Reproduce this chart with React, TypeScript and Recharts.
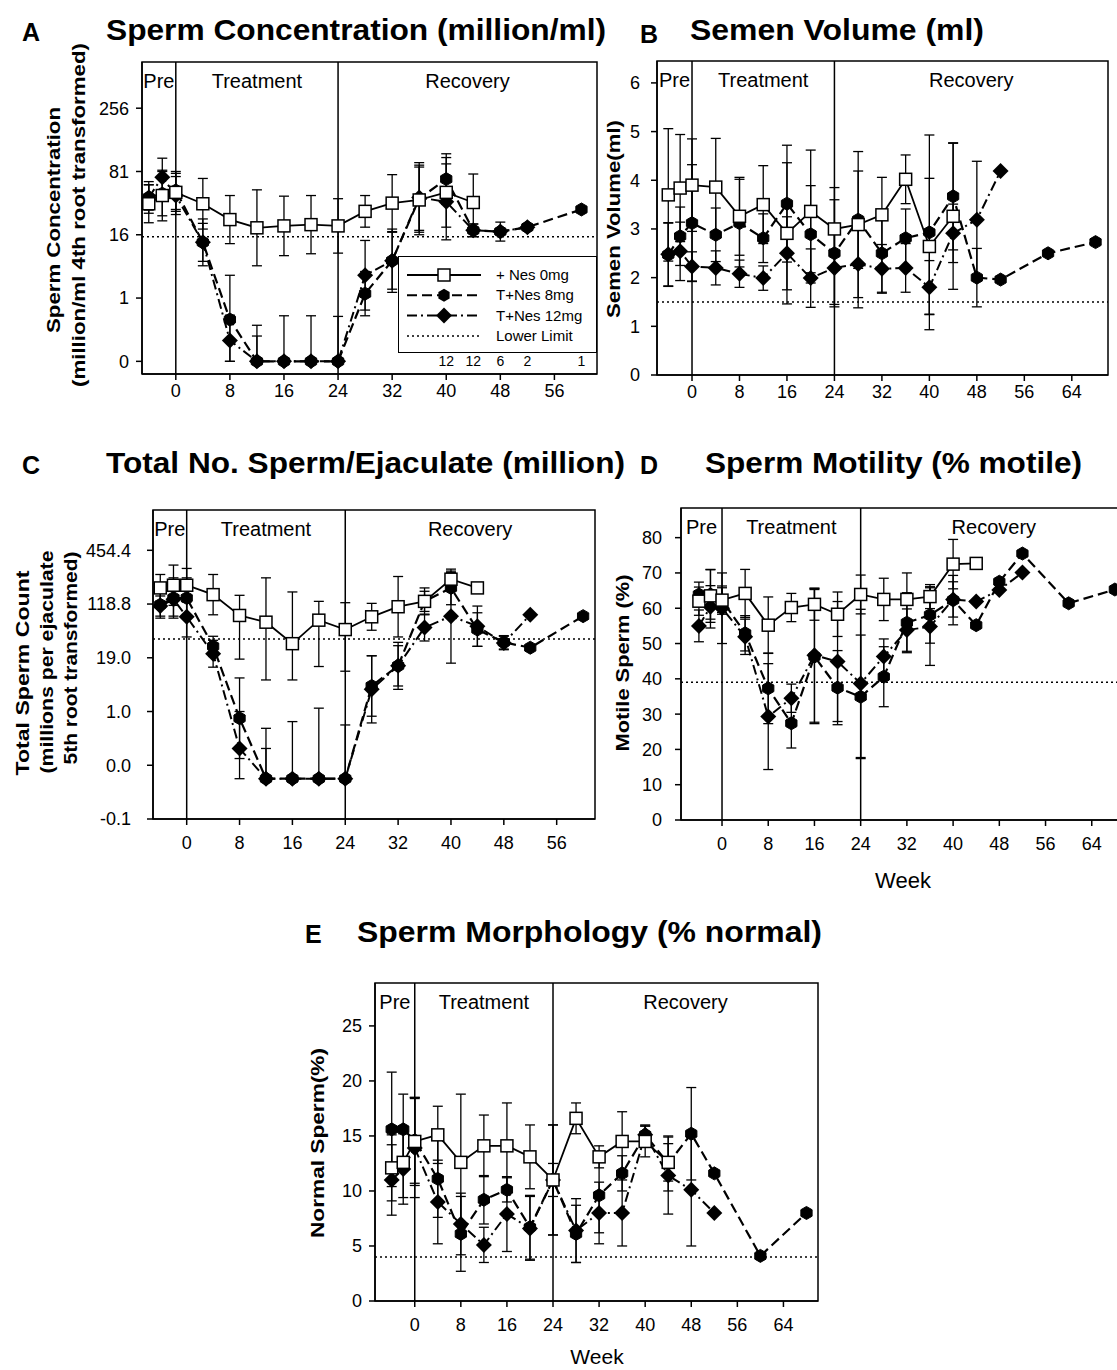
import React from 'react';
import {
  LineChart,
  Line,
  XAxis,
  YAxis,
  ErrorBar,
  ReferenceLine,
  ReferenceArea,
  ReferenceDot,
  Legend,
} from 'recharts';

const FONT = '"Liberation Sans", Arial, Helvetica, sans-serif';

// study weeks (pre-treatment samples at -4 and -2)
const weeks = [-4, -2, 0, 4, 8, 12, 16, 20, 24, 28, 32, 36, 40, 44, 48, 52, 60, 68];

type Err = number | [number, number] | null;

// A: sperm concentration, 4th root transformed
const concNes0 = [2.49, 2.62, 2.67, 2.49, 2.24, 2.11, 2.14, 2.16, 2.14, 2.37, 2.5, 2.55, 2.67, 2.51, null, null, null, null];
const concNes0Err: Err[] = [0.3, 0.4, 0.3, 0.4, 0.38, 0.6, 0.47, 0.46, 0.43, 0.25, 0.45, 0.55, 0.55, 0.45, null, null, null, null];
const concNes8 = [2.59, 2.65, 2.7, 1.88, 0.66, 0, 0, 0, 0, 1.07, 1.59, 2.57, 2.88, 2.07, 2.05, 2.12, 2.4, null];
const concNes8Err: Err[] = [0.25, 0.35, 0.3, 0.37, [0.66, 0.7], [0, 0.57], [0, 0.72], [0, 0.72], [0, 0.71], 0.35, 0.45, 0.5, 0.4, 0.1, 0.15, null, null, null];
const concNes12 = [2.59, 2.91, 2.62, 1.88, 0.33, 0, 0, 0, 0, 1.36, 1.59, 2.59, 2.52, 2.07, 2.05, 2.12, null, null];
const concNes12Err: Err[] = [0.2, 0.3, 0.3, 0.3, [0.33, 0.4], [0, 0.4], null, null, null, 0.55, 0.5, 0.55, 0.6, 0.1, null, null, null, null];
const concLower = 1.97; // 15 million/ml
const concTicks = [0, 1, 2, 3, 4];
const concTickLabels = ['0', '1', '16', '81', '256'];
const countWeeks = [40, 44, 48, 52, 60];
const countValues = ['12', '12', '6', '2', '1'];

// B: semen volume (ml)
const volNes0 = [3.7, 3.84, 3.9, 3.86, 3.26, 3.5, 2.91, 3.36, 3.0, 3.09, 3.29, 4.02, 2.64, 3.26, null, null, null, null];
const volNes0Err: Err[] = [1.36, 1.1, 0.95, 1.0, 0.8, 0.8, 1.45, 1.26, 0.85, 1.5, 0.77, 0.5, 1.4, 1.5, null, null, null, null];
const volNes8 = [2.47, 2.85, 3.12, 2.88, 3.12, 2.81, 3.52, 2.89, 2.5, 3.19, 2.5, 2.81, 2.93, 3.67, 2.0, 1.96, 2.5, 2.73];
const volNes8Err: Err[] = [0.65, 0.6, 1.2, 0.55, 0.9, 0.5, 1.2, 1.0, 1.1, 1.0, 0.8, 0.6, 2.0, 1.1, 0.6, null, null, null];
const volNes12 = [2.48, 2.54, 2.23, 2.2, 2.08, 1.99, 2.5, 1.99, 2.2, 2.28, 2.18, 2.2, 1.8, 2.91, 3.19, 4.19, null, null];
const volNes12Err: Err[] = [0.65, 0.6, 0.3, 0.35, 0.28, 0.25, 0.75, 0.6, 0.75, 0.9, 0.5, 0.5, 0.55, 0.6, 1.2, null, null, null];
const volLower = 1.5;
const volTicks = [0, 1, 2, 3, 4, 5, 6];

// C: total sperm per ejaculate, 5th root transformed
const totNes0 = [2.84, 2.88, 2.88, 2.74, 2.43, 2.33, 2.01, 2.36, 2.22, 2.41, 2.56, 2.64, 2.97, 2.84, null, null, null, null];
const totNes0Err: Err[] = [0.2, 0.3, 0.25, 0.3, [0.65, 0.3], [0.86, 0.66], [0.54, 0.77], [0.69, 0.28], [0.62, 0.4], 0.2, 0.45, 0.2, 0.1, null, null, null, null, null];
const totNes8 = [2.59, 2.69, 2.69, 1.97, 0.9, 0, 0, 0, 0, 1.38, 1.68, 2.64, 2.84, 2.22, 2.03, 1.95, 2.42, null];
const totNes8Err: Err[] = [0.2, 0.3, 0.3, 0.15, 0.6, [0, 0.75], [0, 0.85], [0, 1.05], [0, 0.8], 0.45, 0.35, 0.15, 0.25, 0.25, 0.1, null, null, null];
const totNes12 = [2.57, 2.67, 2.41, 1.86, 0.45, 0, 0, 0, 0, 1.33, 1.68, 2.25, 2.42, 2.27, 2.02, 2.44, null, null];
const totNes12Err: Err[] = [0.15, 0.25, 0.3, 0.2, [0.45, 0.55], [0, 0.45], null, null, null, 0.5, 0.3, 0.2, 0.7, 0.3, 0.1, null, null, null];
const totLower = 2.08; // 39 million
const totTicks = [-0.6, 0.2, 1.0, 1.8, 2.6, 3.4];
const totTickLabels = ['-0.1', '0.0', '1.0', '19.0', '118.8', '454.4'];

// D: sperm motility (% motile)
const motNes0 = [62.0, 63.5, 62.3, 64.2, 55.2, 60.2, 61.1, 58.3, 63.9, 62.5, 62.5, 63.3, 72.5, 72.7, null, null, null, null];
const motNes0Err: Err[] = [4, 7.5, 3.5, 6.8, 8, 4, 4.5, 6.3, 5.5, 6, 7.5, 3.4, 7, null, null, null, null, null];
const motNes8 = [63.9, 63.9, 62.3, 52.9, 37.3, 27.4, 46.3, 37.5, 34.9, 40.6, 55.9, 58.1, 62.3, 55.2, 67.5, 75.5, 61.4, 65.3];
const motNes8Err: Err[] = [3.5, 7, 4, 5, 10, 7, 19, 10.5, 17.5, 8.5, 8.5, 8, 7, null, null, null, null, null];
const motNes12 = [55.0, 60.4, 60.0, 51.9, 29.3, 34.5, 46.7, 44.9, 38.7, 46.3, 53.8, 54.8, 62.5, 61.9, 65.2, 70.1, null, null];
const motNes12Err: Err[] = [4.5, 6, 10, 5, 15, 4, 19, 17, 21, 5, 6, 11, 5, null, null, null, null, null];
const motLower = 39;
const motTicks = [0, 10, 20, 30, 40, 50, 60, 70, 80];

// E: sperm morphology (% normal)
const morphNes0 = [12.1, 12.6, 14.5, 15.1, 12.6, 14.1, 14.1, 13.1, 11.0, 16.6, 13.1, 14.5, 14.5, 12.6, null, null, null, null];
const morphNes0Err: Err[] = [3, 3.2, 4, 2.6, 6.2, 2.8, 3.9, 2.9, 5, 1.4, 1, 2.7, 1.4, 1.7, null, null, null, null];
const morphNes8 = [15.6, 15.6, 14.6, 11.1, 6.1, 9.2, 10.1, 6.7, 11.0, 6.1, 9.6, 11.6, 15.1, 12.5, 15.2, 11.6, 4.1, 8.0];
const morphNes8Err: Err[] = [5.2, 3.2, 3.9, 3.5, 3.4, 2.2, 1.1, 2.9, 1.5, 2.6, 3.4, 1.6, 0.8, 2.5, 4.2, null, null, null];
const morphNes12 = [11.0, 12.0, 13.9, 9.0, 7.0, 5.1, 7.9, 6.6, 11.0, 6.4, 8.0, 8.0, 15.1, 11.4, 10.1, 8.0, null, null];
const morphNes12Err: Err[] = [3.2, 3.2, 4.5, 3.8, 2.8, 1.6, 3.4, 2.9, 5, 2.9, 2.8, 3, 0.9, 3.5, 5.1, null, null, null];
const morphLower = 4;
const morphTicks = [0, 5, 10, 15, 20, 25];

const weekTicksShort = [0, 8, 16, 24, 32, 40, 48, 56];
const weekTicksLong = [0, 8, 16, 24, 32, 40, 48, 56, 64];

const seriesNames = ['+ Nes 0mg', 'T+Nes 8mg', 'T+Nes 12mg'];

// markers
const squareDot = (p: any) =>
  p.cy == null || isNaN(p.cy) ? <g key={p.key} /> : (
    <rect key={p.key} x={p.cx - 6} y={p.cy - 6} width={12} height={12} fill="#fff" stroke="#000" strokeWidth={1.5} />
  );

const hexPoints = (cx: number, cy: number, r: number) =>
  [0, 1, 2, 3, 4, 5]
    .map((i) => {
      const a = (Math.PI / 3) * i + Math.PI / 6;
      return `${cx + r * Math.cos(a)},${cy + r * Math.sin(a)}`;
    })
    .join(' ');

const hexDot = (p: any) =>
  p.cy == null || isNaN(p.cy) ? <g key={p.key} /> : (
    <polygon key={p.key} points={hexPoints(p.cx, p.cy, 6.5)} fill="#000" stroke="#000" strokeWidth={1} />
  );

const diamondDot = (p: any) =>
  p.cy == null || isNaN(p.cy) ? <g key={p.key} /> : (
    <polygon
      key={p.key}
      points={`${p.cx},${p.cy - 8} ${p.cx + 8},${p.cy} ${p.cx},${p.cy + 8} ${p.cx - 8},${p.cy}`}
      fill="#000"
    />
  );

const DASH_8 = '10 5';
const DASH_12 = '10 4 2 4';

const LegendBox = () => {
  const rows = [0, 1, 2, 3];
  return (
    <div style={{ width: 199, height: 97, border: '1.5px solid #000', background: '#fff', boxSizing: 'border-box' }}>
      <svg width={196} height={94} style={{ display: 'block' }}>
        {rows.map((i) => {
          const y = 18 + i * 20.3;
          const dash = i === 0 ? undefined : i === 1 ? DASH_8 : i === 2 ? DASH_12 : '2 3';
          const name = i < 3 ? seriesNames[i] : 'Lower Limit';
          return (
            <g key={i}>
              <line x1={8} x2={82} y1={y} y2={y} stroke="#000" strokeWidth={i === 3 ? 1.5 : 2} strokeDasharray={dash} />
              {i === 0 && <rect x={39} y={y - 6} width={12} height={12} fill="#fff" stroke="#000" strokeWidth={1.5} />}
              {i === 1 && <polygon points={hexPoints(45, y, 6.5)} fill="#000" />}
              {i === 2 && <polygon points={`45,${y - 8} 53,${y} 45,${y + 8} 37,${y}`} fill="#000" />}
              <text x={97} y={y + 5} fontSize={15} fontFamily={FONT} fill="#000">
                {name}
              </text>
            </g>
          );
        })}
      </svg>
    </div>
  );
};

type PanelProps = {
  box: [number, number, number, number];
  xDomain: [number, number];
  xTicks: number[];
  yDomain: [number, number];
  yTicks: number[];
  yTickLabels?: string[];
  s0: (number | null)[];
  e0: Err[];
  s8: (number | null)[];
  e8: Err[];
  s12: (number | null)[];
  e12: Err[];
  lower: number;
  yTickMargin: number;
  xTickMargin: number;
  legend?: boolean;
  counts?: boolean;
};

const YW = 80;
const MT = 12;
const XH = 44;
const MR = 12;

const Panel = (p: PanelProps) => {
  const [L, T, R, B] = p.box;
  const width = R - L + YW + MR;
  const height = B - T + MT + XH;
  const rows = weeks.map((w, i) => ({
    week: w,
    v0: p.s0[i],
    e0: p.e0[i],
    v8: p.s8[i],
    e8: p.e8[i],
    v12: p.s12[i],
    e12: p.e12[i],
  }));
  const tickStyle = { fill: '#000', fontSize: 18, fontFamily: FONT };
  const axisStroke = { stroke: '#000', strokeWidth: 1.5 };
  const regionLabel = (value: string) => ({
    value,
    position: 'insideTop' as const,
    offset: 12,
    fill: '#000',
    fontSize: 20,
    fontFamily: FONT,
  });
  return (
    <div style={{ position: 'absolute', left: L - YW, top: T - MT }}>
      <LineChart width={width} height={height} data={rows} margin={{ top: MT, right: MR, bottom: 0, left: 0 }}>
        <XAxis
          type="number"
          dataKey="week"
          domain={p.xDomain}
          ticks={p.xTicks}
          interval={0}
          allowDataOverflow
          height={XH}
          tickSize={6}
          tickMargin={p.xTickMargin}
          tick={tickStyle}
          axisLine={axisStroke}
          tickLine={axisStroke}
        />
        <YAxis
          type="number"
          domain={p.yDomain}
          ticks={p.yTicks}
          interval={0}
          allowDataOverflow
          width={YW}
          tickSize={6}
          tickMargin={p.yTickMargin}
          tick={tickStyle}
          axisLine={axisStroke}
          tickLine={axisStroke}
          tickFormatter={(v: number) => (p.yTickLabels ? p.yTickLabels[p.yTicks.indexOf(v)] : String(v))}
        />
        <ReferenceArea x1={p.xDomain[0]} x2={0} fill="none" stroke="none" label={regionLabel('Pre')} />
        <ReferenceArea x1={0} x2={24} fill="none" stroke="none" label={regionLabel('Treatment')} />
        <ReferenceArea x1={24} x2={p.xDomain[1]} fill="none" stroke="none" label={regionLabel('Recovery')} />
        <ReferenceArea
          x1={p.xDomain[0]}
          x2={p.xDomain[1]}
          y1={p.yDomain[0]}
          y2={p.yDomain[1]}
          fill="none"
          stroke="#000"
          strokeWidth={1.5}
        />
        <ReferenceLine x={0} stroke="#000" strokeWidth={1.5} />
        <ReferenceLine x={24} stroke="#000" strokeWidth={1.5} />
        <ReferenceLine y={p.lower} stroke="#000" strokeWidth={1.5} strokeDasharray="2 3" />
        <Line
          dataKey="v12"
          name={seriesNames[2]}
          stroke="#000"
          strokeWidth={2}
          strokeDasharray={DASH_12}
          dot={diamondDot}
          activeDot={false}
          isAnimationActive={false}
        >
          <ErrorBar dataKey="e12" width={5} stroke="#000" strokeWidth={1.3} isAnimationActive={false} />
        </Line>
        <Line
          dataKey="v8"
          name={seriesNames[1]}
          stroke="#000"
          strokeWidth={2.2}
          strokeDasharray={DASH_8}
          dot={hexDot}
          activeDot={false}
          isAnimationActive={false}
        >
          <ErrorBar dataKey="e8" width={5} stroke="#000" strokeWidth={1.3} isAnimationActive={false} />
        </Line>
        <Line
          dataKey="v0"
          name={seriesNames[0]}
          stroke="#000"
          strokeWidth={1.8}
          dot={squareDot}
          activeDot={false}
          isAnimationActive={false}
        >
          <ErrorBar dataKey="e0" width={5} stroke="#000" strokeWidth={1.3} isAnimationActive={false} />
        </Line>
        {p.counts &&
          countWeeks.map((w, i) => (
            <ReferenceDot
              key={w}
              x={w}
              y={0}
              r={0}
              fill="none"
              stroke="none"
              label={{ value: countValues[i], position: 'center', fill: '#000', fontSize: 14, fontFamily: FONT }}
            />
          ))}
        {p.legend && (
          <Legend
            layout="vertical"
            align="center"
            verticalAlign="middle"
            content={() => <LegendBox />}
            wrapperStyle={{ left: 398 - (L - YW), top: 256 - (T - MT), width: 199, height: 97 }}
          />
        )}
      </LineChart>
    </div>
  );
};

const titles = [
  { letter: 'A', lx: 22, ly: 41, text: 'Sperm Concentration (million/ml)', x: 106, w: 500, y: 40 },
  { letter: 'B', lx: 640, ly: 43, text: 'Semen Volume (ml)', x: 690, w: 294, y: 40 },
  { letter: 'C', lx: 22, ly: 474, text: 'Total No. Sperm/Ejaculate (million)', x: 106, w: 519, y: 473 },
  { letter: 'D', lx: 640, ly: 474, text: 'Sperm Motility (% motile)', x: 705, w: 377, y: 473 },
  { letter: 'E', lx: 305, ly: 943, text: 'Sperm Morphology (% normal)', x: 357, w: 465, y: 942 },
];

const yTitles = [
  { text: 'Sperm Concentration', x: 53, y: 220, w: 226 },
  { text: '(million/ml 4th root transformed)', x: 78, y: 215, w: 344 },
  { text: 'Semen Volume(ml)', x: 613, y: 219, w: 198 },
  { text: 'Total Sperm Count', x: 22, y: 673, w: 205 },
  { text: '(millions per ejaculate', x: 46, y: 662, w: 223 },
  { text: '5th root transformed)', x: 70, y: 658, w: 213 },
  { text: 'Motile Sperm (%)', x: 622, y: 663, w: 177 },
  { text: 'Normal Sperm(%)', x: 317, y: 1143, w: 190 },
];

const Texts = () => (
  <svg width={1117} height={1370} style={{ position: 'absolute', left: 0, top: 0, pointerEvents: 'none' }}>
    {titles.map((t) => (
      <g key={t.letter} fontFamily={FONT} fontWeight="bold" fill="#000">
        <text x={t.lx} y={t.ly} fontSize={25}>
          {t.letter}
        </text>
        <text x={t.x} y={t.y} fontSize={30} textLength={t.w} lengthAdjust="spacingAndGlyphs">
          {t.text}
        </text>
      </g>
    ))}
    {yTitles.map((t) => (
      <text
        key={t.text}
        transform={`translate(${t.x + 6.5},${t.y}) rotate(-90)`}
        textAnchor="middle"
        fontFamily={FONT}
        fontWeight="bold"
        fontSize={18}
        fill="#000"
        textLength={t.w}
        lengthAdjust="spacingAndGlyphs"
      >
        {t.text}
      </text>
    ))}
    <text x={903} y={888} textAnchor="middle" fontFamily={FONT} fontSize={22} fill="#000">
      Week
    </text>
    <text x={597} y={1364} textAnchor="middle" fontFamily={FONT} fontSize={21} fill="#000">
      Week
    </text>
  </svg>
);

export default function App() {
  return (
    <div style={{ position: 'absolute', left: 0, top: 0, width: 1117, height: 1370, overflow: 'hidden', background: '#fff', fontFamily: FONT }}>
      <Panel
        box={[142, 62, 597, 374]}
        xDomain={[-5, 62.3]}
        xTicks={weekTicksShort}
        yDomain={[-0.2, 4.73]}
        yTicks={concTicks}
        yTickLabels={concTickLabels}
        s0={concNes0}
        e0={concNes0Err}
        s8={concNes8}
        e8={concNes8Err}
        s12={concNes12}
        e12={concNes12Err}
        lower={concLower}
        yTickMargin={7}
        xTickMargin={4}
        legend
        counts
      />
      <Panel
        box={[657, 61, 1108, 375]}
        xDomain={[-5.9, 70.1]}
        xTicks={weekTicksLong}
        yDomain={[0, 6.45]}
        yTicks={volTicks}
        s0={volNes0}
        e0={volNes0Err}
        s8={volNes8}
        e8={volNes8Err}
        s12={volNes12}
        e12={volNes12Err}
        lower={volLower}
        yTickMargin={11}
        xTickMargin={4}
      />
      <Panel
        box={[153, 510, 595, 819]}
        xDomain={[-5.1, 61.8]}
        xTicks={weekTicksShort}
        yDomain={[-0.6, 4.0]}
        yTicks={totTicks}
        yTickLabels={totTickLabels}
        s0={totNes0}
        e0={totNes0Err}
        s8={totNes8}
        e8={totNes8Err}
        s12={totNes12}
        e12={totNes12Err}
        lower={totLower}
        yTickMargin={16}
        xTickMargin={11}
      />
      <Panel
        box={[681, 508, 1127, 820]}
        xDomain={[-7.1, 70.1]}
        xTicks={weekTicksLong}
        yDomain={[0, 88.4]}
        yTicks={motTicks}
        s0={motNes0}
        e0={motNes0Err}
        s8={motNes8}
        e8={motNes8Err}
        s12={motNes12}
        e12={motNes12Err}
        lower={motLower}
        yTickMargin={13}
        xTickMargin={11}
      />
      <Panel
        box={[375, 983, 818, 1301]}
        xDomain={[-6.9, 70]}
        xTicks={weekTicksLong}
        yDomain={[0, 28.9]}
        yTicks={morphTicks}
        s0={morphNes0}
        e0={morphNes0Err}
        s8={morphNes8}
        e8={morphNes8Err}
        s12={morphNes12}
        e12={morphNes12Err}
        lower={morphLower}
        yTickMargin={7}
        xTickMargin={11}
      />
      <Texts />
    </div>
  );
}
